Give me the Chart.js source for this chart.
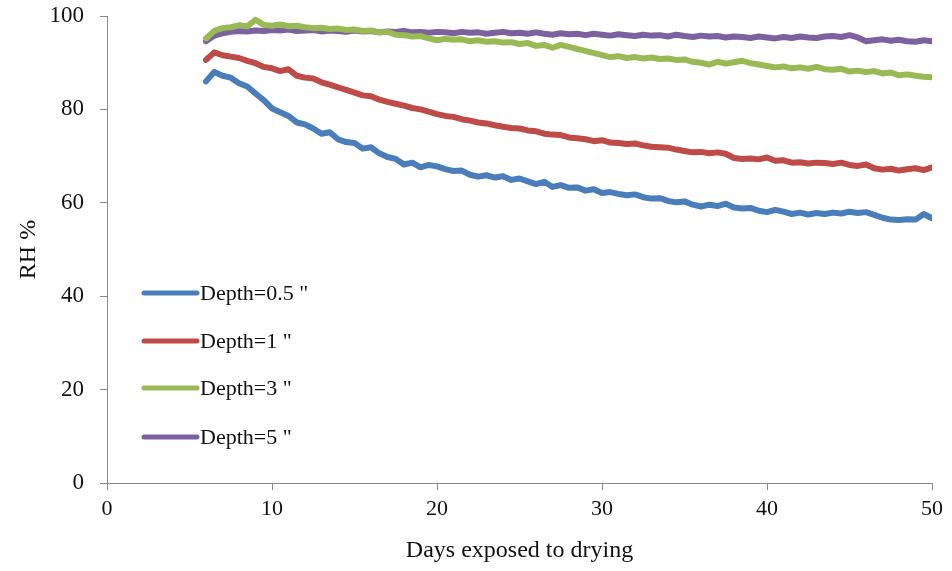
<!DOCTYPE html>
<html>
<head>
<meta charset="utf-8">
<script src="https://cdn.jsdelivr.net/npm/chart.js@4.4.1/dist/chart.umd.min.js"></script>
<style>
html,body{margin:0;padding:0;background:#fff;}
#wrap{width:952px;height:571px;}
</style>
</head>
<body>
<div id="wrap"><canvas id="c" width="952" height="571"></canvas></div>
<script>
const days = [6,6.5,7,7.5,8,8.5,9,9.5,10,10.5,11,11.5,12,12.5,13,13.5,14,14.5,15,15.5,16,16.5,17,17.5,18,18.5,19,19.5,20,20.5,21,21.5,22,22.5,23,23.5,24,24.5,25,25.5,26,26.5,27,27.5,28,28.5,29,29.5,30,30.5,31,31.5,32,32.5,33,33.5,34,34.5,35,35.5,36,36.5,37,37.5,38,38.5,39,39.5,40,40.5,41,41.5,42,42.5,43,43.5,44,44.5,45,45.5,46,46.5,47,47.5,48,48.5,49,49.5,50];

const seriesNames = ['Depth=0.5 "', 'Depth=1 "', 'Depth=3 "', 'Depth=5 "'];

const depth05 = [86.0,88.0,87.2,86.8,85.6,84.9,83.4,82.0,80.2,79.4,78.6,77.2,76.8,75.9,74.8,75.1,73.6,73.0,72.8,71.6,71.9,70.6,69.8,69.4,68.2,68.6,67.6,68.1,67.8,67.2,66.8,66.9,66.0,65.6,65.9,65.4,65.7,64.9,65.2,64.6,64.0,64.5,63.4,63.8,63.2,63.3,62.6,62.9,62.1,62.3,61.9,61.6,61.8,61.2,60.9,61.0,60.4,60.1,60.3,59.6,59.2,59.6,59.3,59.8,59.0,58.8,58.9,58.3,58.0,58.5,58.1,57.6,57.9,57.5,57.8,57.6,57.9,57.7,58.1,57.8,58.0,57.4,56.8,56.4,56.3,56.5,56.4,57.6,56.7];

const depth1 = [90.6,92.2,91.6,91.3,91.0,90.4,89.9,89.1,88.8,88.2,88.6,87.2,86.8,86.6,85.8,85.3,84.7,84.2,83.6,83.0,82.8,82.1,81.6,81.2,80.8,80.3,80.0,79.5,79.0,78.6,78.4,77.9,77.6,77.2,77.0,76.6,76.3,76.0,75.9,75.5,75.3,74.8,74.6,74.5,74.0,73.8,73.6,73.2,73.4,72.9,72.8,72.6,72.7,72.3,72.0,71.9,71.8,71.4,71.1,70.8,70.9,70.6,70.8,70.5,69.6,69.4,69.5,69.3,69.7,69.0,69.1,68.6,68.7,68.4,68.6,68.5,68.3,68.6,68.1,67.9,68.2,67.4,67.1,67.3,66.9,67.2,67.4,67.0,67.6];

const depth3 = [95.2,96.8,97.4,97.6,98.0,97.8,99.2,98.1,97.9,98.2,97.8,97.9,97.6,97.4,97.5,97.2,97.3,97.0,97.1,96.8,96.9,96.5,96.6,96.0,95.9,95.6,95.7,95.2,94.8,95.1,94.9,95.0,94.6,94.8,94.5,94.6,94.3,94.4,94.0,94.2,93.6,93.8,93.2,93.8,null,null,null,null,null,91.2,91.4,91.0,91.2,90.9,91.1,90.8,90.9,90.6,90.7,90.2,90.0,89.6,90.2,89.8,90.1,90.4,89.9,89.6,89.3,89.0,89.2,88.8,89.0,88.7,89.1,88.6,88.5,88.7,88.1,88.3,88.0,88.2,87.7,87.9,87.3,87.5,87.2,87.0,86.9];

const depth5 = [94.6,95.8,96.3,96.6,96.8,96.7,96.9,96.8,97.0,96.9,97.1,96.8,96.9,97.0,96.7,96.9,96.8,96.6,96.9,96.7,96.8,96.5,96.7,96.6,96.8,96.5,96.6,96.4,96.6,96.5,96.3,96.6,96.4,96.5,96.2,96.4,96.6,96.3,96.4,96.2,96.5,96.2,96.0,96.3,96.1,96.2,95.9,96.2,96.0,95.8,96.1,95.9,95.7,96.0,95.8,95.9,95.6,96.0,95.7,95.5,95.8,95.6,95.7,95.4,95.6,95.5,95.3,95.6,95.4,95.2,95.5,95.3,95.6,95.4,95.3,95.6,95.7,95.5,95.9,95.4,94.6,94.8,95.0,94.7,94.9,94.6,94.5,94.8,94.6];

const xTicks = [0,10,20,30,40,50];
const yTicks = [0,20,40,60,80,100];

const colors = ['#4A7EBB','#BE4B48','#98B954','#7D60A0'];
const allSeries = [depth05, depth1, depth3, depth5];

const FONT = '"Liberation Serif", "Times New Roman", serif';

const datasets = allSeries.map((vals, i) => ({
  label: seriesNames[i],
  data: days.map((d, k) => ({x: d, y: vals[k]})),
  borderColor: colors[i],
  backgroundColor: colors[i],
  borderWidth: 6,
  pointRadius: 0,
  tension: 0,
  spanGaps: true,
  borderJoinStyle: 'round',
  borderCapStyle: 'round'
}));

const legendPlugin = {
  id: 'insideLegend',
  afterDraw(chart) {
    const ctx = chart.ctx;
    const a = chart.chartArea;
    const offsets = [277, 325, 372, 421];
    ctx.save();
    chart.data.datasets.forEach((ds, i) => {
      const y = a.top + offsets[i];
      ctx.strokeStyle = ds.borderColor;
      ctx.lineWidth = 5;
      ctx.lineCap = 'round';
      ctx.beginPath();
      ctx.moveTo(a.left + 37, y);
      ctx.lineTo(a.left + 90, y);
      ctx.stroke();
      ctx.fillStyle = '#111';
      ctx.font = '22px ' + FONT;
      ctx.textBaseline = 'middle';
      ctx.textAlign = 'left';
      ctx.fillText(ds.label, a.left + 93, y + 1);
    });
    ctx.restore();
  }
};

new Chart(document.getElementById('c'), {
  type: 'line',
  data: { datasets },
  options: {
    responsive: false,
    animation: false,
    layout: { padding: { top: 16, right: 20, left: 0, bottom: 0 } },
    plugins: { legend: { display: false }, tooltip: { enabled: false } },
    scales: {
      x: {
        type: 'linear',
        min: 0, max: 50,
        afterFit(scale) { scale.height = 88; scale.paddingLeft = 0; scale.paddingRight = 0; },
        afterBuildTicks(scale) { scale.ticks = xTicks.map(v => ({value: v})); },
        border: { display: true, color: '#8A8A8A', width: 1 },
        grid: { display: true, drawOnChartArea: false, drawTicks: true, tickLength: 7, color: '#8A8A8A' },
        ticks: { color: '#111', padding: 6, maxRotation: 0, font: { family: FONT, size: 22 } },
        title: { display: true, text: 'Days exposed to drying', color: '#111', font: { family: FONT, size: 24 }, padding: { top: 0, bottom: 6 } }
      },
      y: {
        min: 0, max: 100,
        afterFit(scale) { scale.width = 107; scale.paddingTop = 0; scale.paddingBottom = 0; },
        afterBuildTicks(scale) { scale.ticks = yTicks.map(v => ({value: v})); },
        border: { display: true, color: '#8A8A8A', width: 1 },
        grid: { display: true, drawOnChartArea: false, drawTicks: true, tickLength: 7, color: '#8A8A8A' },
        ticks: { color: '#111', padding: 16, font: { family: FONT, size: 23 } },
        title: { display: true, text: 'RH %', color: '#111', font: { family: FONT, size: 24 }, padding: { top: 14, bottom: 0 } }
      }
    }
  },
  plugins: [legendPlugin]
});
</script>
</body>
</html>
